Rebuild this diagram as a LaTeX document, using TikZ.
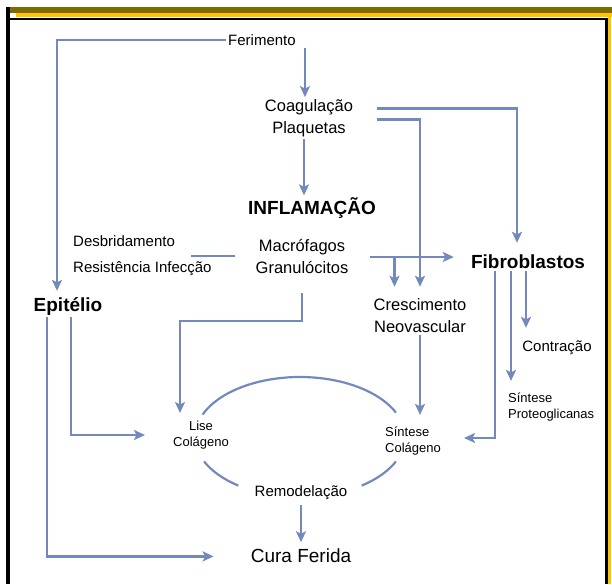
\documentclass[tikz,border=0pt]{standalone}
\usepackage{fontspec}
\setmainfont{Liberation Sans}
\usetikzlibrary{positioning, arrows.meta}
\definecolor{lcolor}{HTML}{7389BD}
\definecolor{olive}{HTML}{7D6A00}
\definecolor{gold}{HTML}{FFC600}

\begin{document}
\begin{tikzpicture}[x=1pt, y=-1pt,
    txt/.style={font=\fontsize{16.5}{22}\selectfont, align=center, inner sep=2pt},
    mid/.style={font=\fontsize{15}{19}\selectfont, align=center, inner sep=2pt},
    sml/.style={font=\fontsize{13}{15.5}\selectfont, inner sep=2pt},
    hd/.style={font=\bfseries\fontsize{19}{23}\selectfont, inner sep=2pt},
    link/.style={lcolor, line width=2.2pt},
    arr/.style={link, -{Stealth[length=11pt, width=10pt, inset=2.5pt]}},
  ]
    \useasboundingbox (0,0) rectangle (612,584);
    % frame
    \fill[olive] (8,7) rectangle (612,13);
    \fill[gold] (16,13) rectangle (612,17);
    \fill[black] (5.5,7) rectangle (10,584);
    \fill[black] (10,17.5) rectangle (607.5,19.5);
    \fill[black] (604.5,17.5) rectangle (607.5,584);
    \fill[gold] (607.5,17) rectangle (611,584);

    \node[mid] (fer) at (262,40) {Ferimento};
    \node[txt] (coag) at (309,118) {Coagulação\\Plaquetas};
    \node[hd] (infl) at (312,208) {INFLAMAÇÃO};
    \node[txt] (macro) at (302,256) {Macrófagos\\Granulócitos};
    \node[mid, align=left, anchor=west, font=\fontsize{15}{26}\selectfont] (desb) at (71,256) {Desbridamento\\Resistência Infecção};
    \node[hd] (fibro) at (528,262) {Fibroblastos};
    \node[txt] (cresc) at (420,316) {Crescimento\\Neovascular};
    \node[hd] (epit) at (68,306) {Epitélio};
    \node[sml, align=center] (lise) at (201,435) {Lise\\Colágeno};
    \node[sml, align=left, anchor=west] (sint) at (383,441) {Síntese\\Colágeno};
    \node[mid] (contr) at (557,348) {Contração};
    \node[sml, align=left, anchor=west] (prot) at (506,407) {Síntese\\Proteoglicanas};
    \node[mid] (remod) at (301,493) {Remodelação};
    \node[hd, font=\fontsize{19}{23}\selectfont, below=44pt of remod] (cura) {Cura Ferida};
    \coordinate (cyc) at (300,437);

    % arrows from the top
    \draw[arr] (fer.west) -| ([xshift=-11pt, yshift=4pt]epit.north);
    \draw[arr] ([xshift=-4pt]coag.north |- fer.south) -- ([xshift=-4pt]coag.north);
    \draw[arr] ([xshift=-5pt]coag.south) -- ([xshift=-5pt]coag.south |- infl.north);
    \draw[arr, shorten <=22pt] ([yshift=9.5pt]coag.east) -| ([xshift=-11pt, yshift=10pt]fibro.north);
    \draw[arr, shorten <=22pt] ([yshift=-1.5pt]coag.east) -| ([yshift=10pt]cresc.north);

    % inflammation
    \draw[link, shorten <=18pt] (macro.west) -- ([xshift=-23pt]desb.east);
    \draw[arr, shorten <=19pt, shorten >=15pt] ([yshift=-1pt]macro.east) -- ([yshift=-1pt]macro.east -| fibro.west);
    \coordinate (mc) at ([xshift=44pt, yshift=-1pt]macro.east);
    \draw[arr] (mc) -- ([yshift=10pt]mc |- cresc.north);
    \draw[arr] ([yshift=-18pt]macro.south) -- ++(0,28) -| ([xshift=-21pt, yshift=6pt]lise.north);

    % epithelium
    \draw[arr] ([xshift=3pt]epit.south) |- ([xshift=-26pt]lise.west);
    \draw[arr] ([xshift=-21pt]epit.south) |- ([xshift=-35pt, yshift=-1pt]cura.west);

    % vessels and fibroblasts
    \draw[arr, shorten >=10pt] (cresc.south) -- (cresc.south |- sint.north);
    \draw[arr] ([xshift=-33pt]fibro.south) |- ([xshift=21pt, yshift=3pt]sint.east);
    \draw[arr, shorten >=10pt] ([xshift=-17pt]fibro.south) -- ([xshift=-17pt]fibro.south |- prot.north);
    \draw[arr, shorten >=11pt] ([xshift=-2pt]fibro.south) -- ([xshift=-2pt]fibro.south |- contr.north);

    % remodelling cycle
    \draw[link] (cyc) ++(202:105 and 60) arc[start angle=202, end angle=336, x radius=105, y radius=60];
    \draw[link] (cyc) ++(156:105 and 60) arc[start angle=156, end angle=126, x radius=105, y radius=60];
    \draw[link] (cyc) ++(54:105 and 60) arc[start angle=54, end angle=24, x radius=105, y radius=60];
    \draw[arr, shorten <=3pt, shorten >=4pt] (remod) -- (cura);
\end{tikzpicture}
\end{document}
